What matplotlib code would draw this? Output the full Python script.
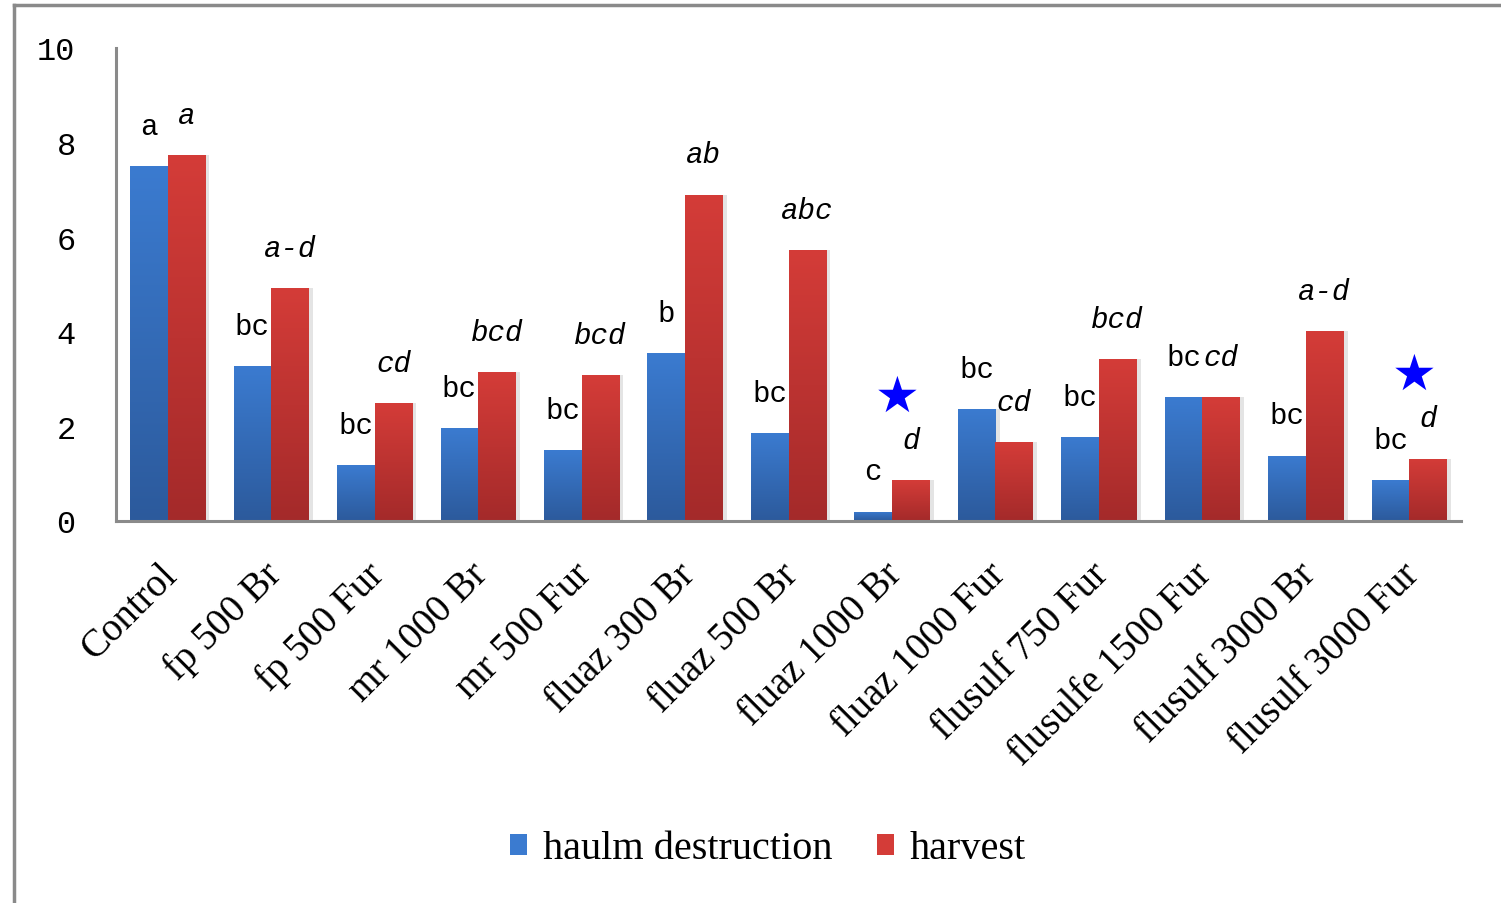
import numpy as np
import matplotlib
matplotlib.use("Agg")
import matplotlib.pyplot as plt
import matplotlib.transforms as mtransforms
from matplotlib.lines import Line2D
from matplotlib.patches import Patch
from matplotlib.colors import LinearSegmentedColormap

# --- data -------------------------------------------------------------
categories = ['Control', 'fp 500 Br', 'fp 500 Fur', 'mr 1000 Br', 'mr 500 Fur',
              'fluaz 300 Br', 'fluaz 500 Br', 'fluaz 1000 Br', 'fluaz 1000 Fur',
              'flusulf 750 Fur', 'flusulfe 1500 Fur', 'flusulf 3000 Br',
              'flusulf 3000 Fur']
haulm = [7.50, 3.28, 1.18, 1.96, 1.50, 3.55, 1.85, 0.20, 2.37, 1.78, 2.62, 1.38, 0.86]
harvest = [7.74, 4.92, 2.49, 3.14, 3.08, 6.90, 5.73, 0.86, 1.66, 3.42, 2.62, 4.01, 1.32]
haulm_letters = ['a', 'bc', 'bc', 'bc', 'bc', 'b', 'bc', 'c', 'bc', 'bc', 'bc', 'bc', 'bc']
harvest_letters = ['a', 'a-d', 'cd', 'bcd', 'bcd', 'ab', 'abc', 'd', 'cd', 'bcd', 'cd',
                   'a-d', 'd']
starred = ['fluaz 1000 Br', 'flusulf 3000 Fur']
yticks = [0, 2, 4, 6, 8, 10]
series_names = ['haulm destruction', 'harvest']

# --- style ------------------------------------------------------------
BLUE_TOP, BLUE_BOT = '#3b7bd0', '#2c5a9c'
RED_TOP, RED_BOT = '#d43c38', '#a42a2a'
AXIS_GRAY = '#8a8a8a'
SERIF = 'Liberation Serif'
MONO = 'Liberation Mono'

W, H, DPI = 1501, 904, 100
fig = plt.figure(figsize=(W / DPI, H / DPI), dpi=DPI)
ax = fig.add_axes([116 / W, 1 - 522 / H, (1461 - 116) / W, (522 - 49) / H])

x = np.arange(len(categories))
bw = 0.363


def gradient_fill(bars, top, bottom):
    cmap = LinearSegmentedColormap.from_list('grad', [bottom, top])
    grad = np.linspace(0, 1, 128).reshape(-1, 1)
    for b in bars:
        bx, by = b.get_xy()
        w, h = b.get_width(), b.get_height()
        im = ax.imshow(grad, extent=[bx, bx + w, by, by + h], origin='lower',
                       aspect='auto', cmap=cmap, zorder=3, interpolation='bilinear')
        im.set_clip_path(b)
        b.set_facecolor('none')


# soft shadows to the right of each bar
ax.bar(x - bw / 2 + 0.04, haulm, bw, color='#e4e4e4', zorder=1)
ax.bar(x + bw / 2 + 0.04, harvest, bw, color='#e4e4e4', zorder=1)

b1 = ax.bar(x - bw / 2, haulm, bw, color=BLUE_TOP, linewidth=0, zorder=3)
b2 = ax.bar(x + bw / 2, harvest, bw, color=RED_TOP, linewidth=0, zorder=3)
gradient_fill(b1, BLUE_TOP, BLUE_BOT)
gradient_fill(b2, RED_TOP, RED_BOT)

ax.set_xlim(-0.5, len(categories) - 0.5)
ax.set_ylim(0, 10)

# significance letters
for i in range(len(categories)):
    ax.annotate(haulm_letters[i], (x[i] - bw / 2, haulm[i]), xytext=(0, 29),
                textcoords='offset points', ha='center', va='center',
                fontsize=21, family=MONO, zorder=5)
    ax.annotate(harvest_letters[i], (x[i] + bw / 2, harvest[i]), xytext=(0, 29),
                textcoords='offset points', ha='center', va='center',
                fontsize=21, family=MONO, style='italic', zorder=5)
    if categories[i] in starred:
        ax.annotate('\u2605', (x[i] + bw / 2, harvest[i]), xytext=(-10, 60),
                    textcoords='offset points', ha='center', va='center',
                    fontsize=36, color='#0000ff', family='DejaVu Sans', zorder=5)

# axes
for s in ['top', 'right']:
    ax.spines[s].set_visible(False)
for s in ['left', 'bottom']:
    ax.spines[s].set_color(AXIS_GRAY)
    ax.spines[s].set_linewidth(2.2)
    ax.spines[s].set_zorder(6)

ax.set_yticks(yticks)
ax.set_yticklabels([str(v) for v in yticks], family=MONO, fontsize=23)
ax.tick_params(axis='y', length=0, pad=29)
ax.set_xticks(x)
ax.set_xticklabels(categories, rotation=45, ha='right', va='top',
                   rotation_mode='anchor', family=SERIF, fontsize=28)
ax.tick_params(axis='x', length=0, pad=25)
shift = mtransforms.ScaledTranslation(-9 / DPI, 0, fig.dpi_scale_trans)
for lbl in ax.get_xticklabels():
    lbl.set_transform(lbl.get_transform() + shift)

# legend
handles = [Patch(facecolor=BLUE_TOP, edgecolor='none'),
           Patch(facecolor=RED_TOP, edgecolor='none')]
fig.legend(handles, series_names, loc='center', bbox_to_anchor=(768 / W, 1 - 850 / H),
           ncol=2, frameon=False, prop={'family': SERIF, 'size': 29},
           handlelength=0.42, handleheight=0.42, handletextpad=0.4,
           columnspacing=1.1)

# outer chart border (left and top edges)
fig.add_artist(Line2D([14 / W, 14 / W], [0, 1 - 6 / H], transform=fig.transFigure,
                      color=AXIS_GRAY, linewidth=2.5))
fig.add_artist(Line2D([14 / W, 1], [1 - 6 / H, 1 - 6 / H], transform=fig.transFigure,
                      color=AXIS_GRAY, linewidth=2.5))

fig.savefig('out.png', dpi=DPI, facecolor='white')
